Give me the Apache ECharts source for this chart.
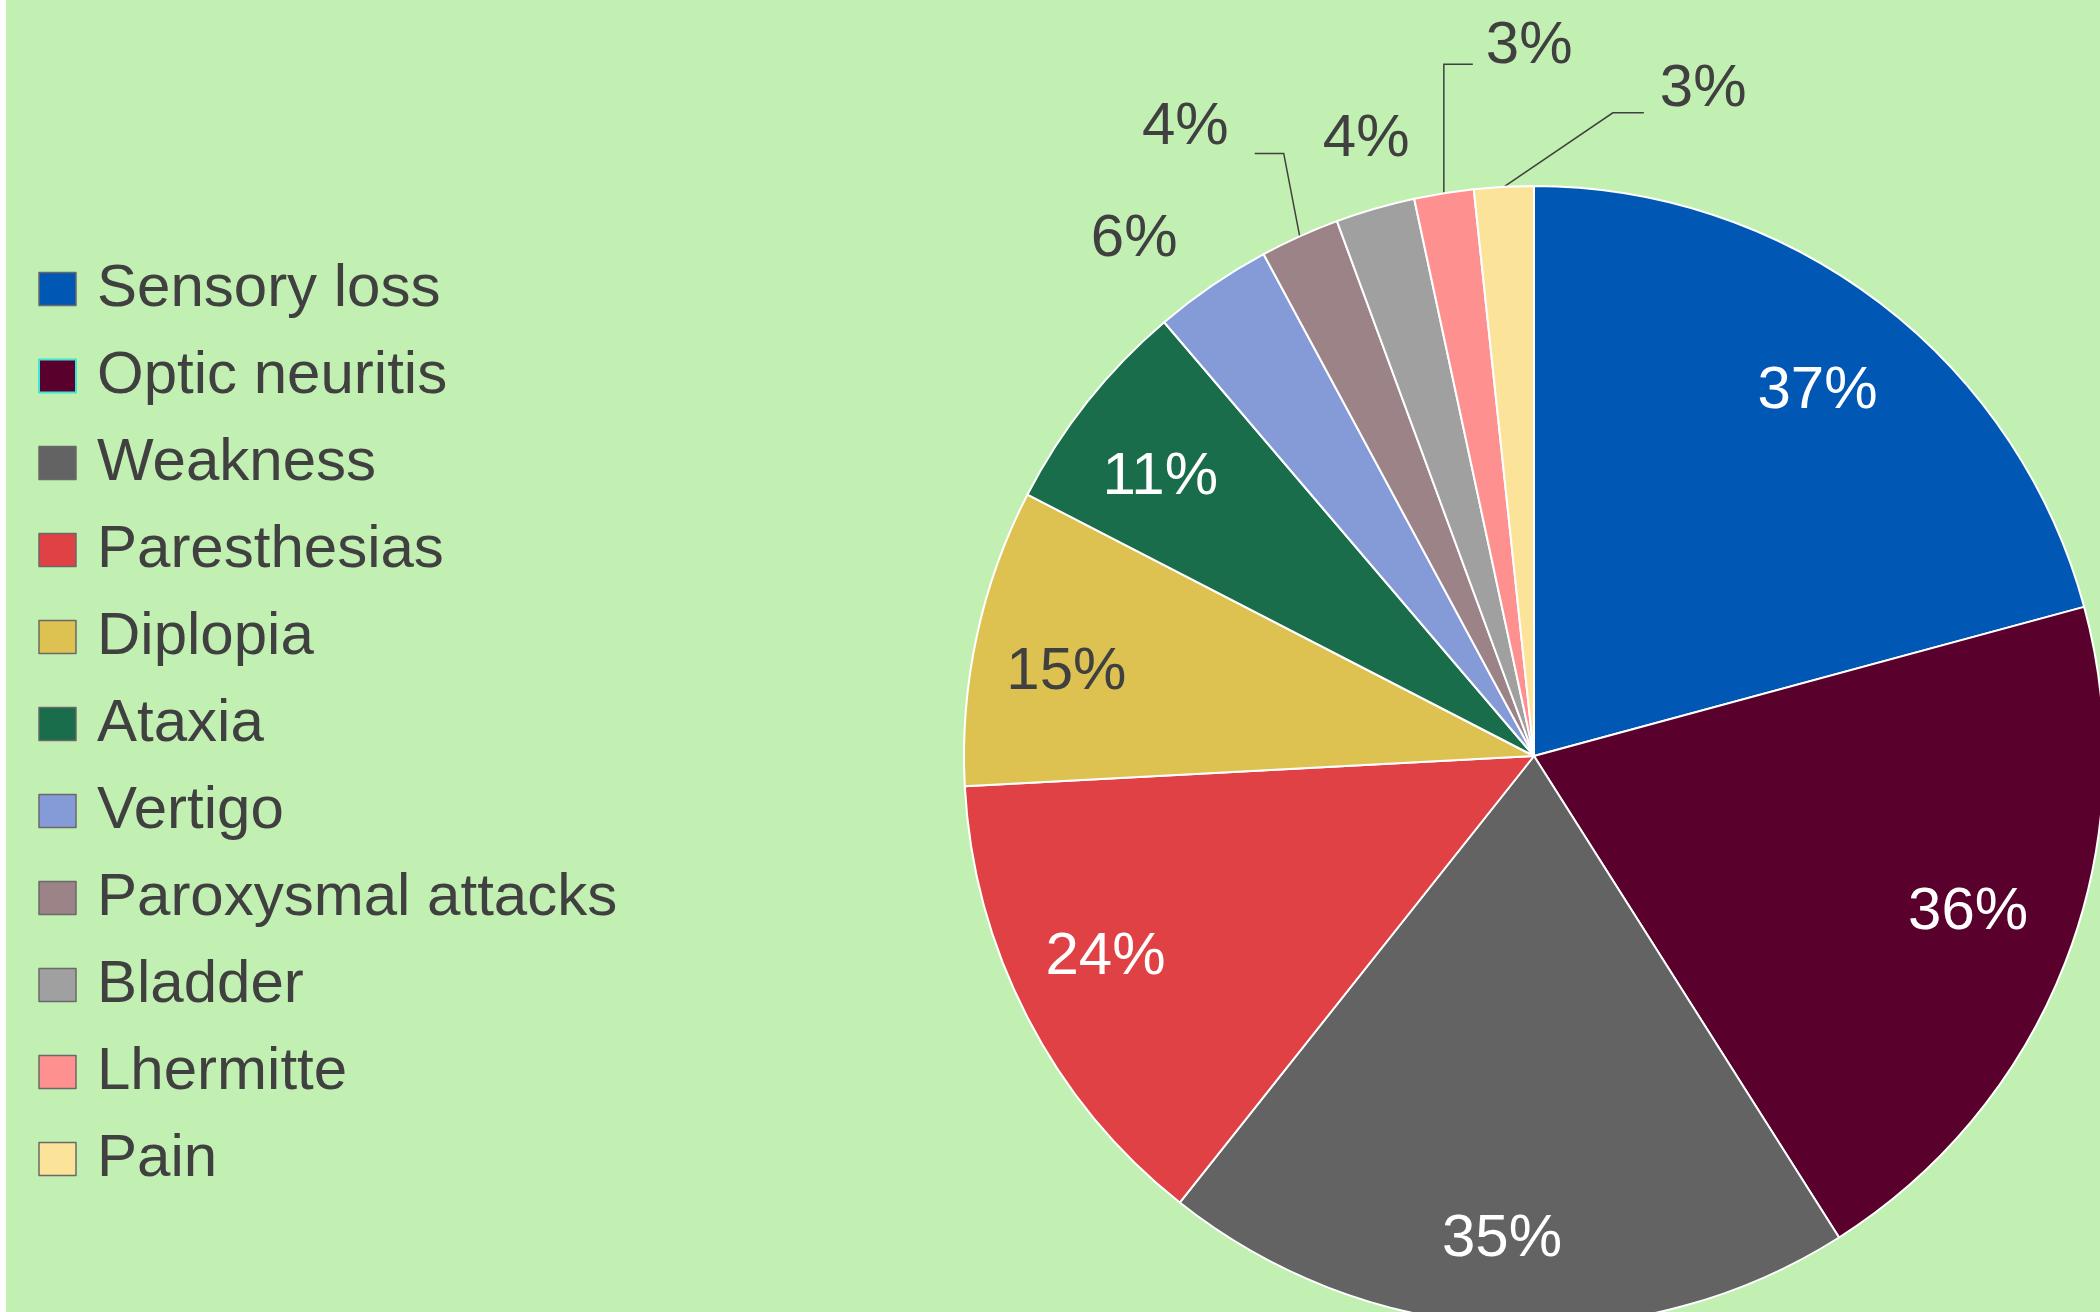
<!DOCTYPE html>
<html><head><meta charset="utf-8">
<script src="https://cdn.jsdelivr.net/npm/echarts@6/dist/echarts.min.js"></script>
<style>
html,body{margin:0;padding:0;background:#ffffff;width:2100px;height:1312px;overflow:hidden}
#main{position:absolute;left:6px;top:0;width:2094px;height:1312px}
</style></head><body><div id="main"></div>
<script>
// ---- data ----
const categories = ['Sensory loss','Optic neuritis','Weakness','Paresthesias','Diplopia','Ataxia','Vertigo','Paroxysmal attacks','Bladder','Lhermitte','Pain'];
const percentages = [37, 36, 35, 24, 15, 11, 6, 4, 4, 3, 3];

// ---- styles ----
const sliceColors = ['#0058B4','#5A002C','#636363','#E04144','#DDC252','#196D4B','#849BD8','#9C8387','#A0A0A0','#FF9090','#FBE39A'];
const insideLabelColors = ['#ffffff','#ffffff','#ffffff','#ffffff','#404040','#ffffff'];
const insideNudge = [[-4,11],[-7,-15],[-7,11],[-8,-16],[-5,16],[-3,16]];
const FONT = '"Liberation Sans", Arial, sans-serif';
const TEXT = '#404040';
const CX = 1528, CY = 756, R = 570;
// outside-label placement (offsets from the slice's outer edge point)
const outside = {
  6:  {line: false, pts: [], label: [-78,-46], align: 'center'},
  7:  {line: true, pts: [[-16,-83],[-45,-83]], label: [-71,-109], align: 'right'},
  8:  {line: false, pts: [], label: [-9,-69], align: 'center'},
  9:  {line: true, pts: [[0,-129],[29,-129]], label: [42,-147], align: 'left'},
  10: {line: true, pts: [[109,-74],[140,-74]], label: [156,-97], align: 'left'}
};

const mainData = categories.map((name, i) => {
  const o = outside[i];
  const item = {name, value: percentages[i], itemStyle: {color: sliceColors[i]}};
  if (o) {
    item.label = {show: true, position: 'outside', color: TEXT};
    item.labelLine = {show: true, length: 20, length2: 0,
      lineStyle: {color: TEXT, width: 1.5, opacity: o.line ? 1 : 0}};
  }
  return item;
});
const labelRingData = categories.map((name, i) => ({
  name, value: percentages[i],
  label: {show: i < 6, color: insideLabelColors[i] || TEXT}
}));

const chart = echarts.init(document.getElementById('main'), null, {renderer: 'canvas'});
chart.setOption({
  backgroundColor: '#C2EFB2',
  animation: false,
  legend: {
    orient: 'vertical',
    left: 32, top: 259, padding: 0,
    itemWidth: 37, itemHeight: 33, itemGap: 27,
    icon: 'rect',
    data: categories.map(n => ({name: n, itemStyle: n === 'Optic neuritis'
      ? {borderColor: '#3FE6D6', borderWidth: 2}
      : {borderColor: '#6A6A6A', borderWidth: 1.5}})),
    textStyle: {fontFamily: FONT, fontSize: 60, color: TEXT, lineHeight: 60, padding: [0,0,0,16]},
    selectedMode: false
  },
  series: [
    {
      type: 'pie',
      center: [CX, CY],
      radius: [0, R],
      startAngle: 90,
      clockwise: true,
      avoidLabelOverlap: false,
      itemStyle: {borderColor: '#ffffff', borderWidth: 2},
      label: {show: false, formatter: '{c}%', fontFamily: FONT, fontSize: 60, color: TEXT},
      labelLine: {show: false},
      emphasis: {disabled: true},
      data: mainData,
      labelLayout: function (p) {
        const o = outside[p.dataIndex];
        if (!o || !p.labelLinePoints) return {};
        const p0 = p.labelLinePoints[0];
        const pts = o.line ? [p0].concat(o.pts.map(q => [p0[0] + q[0], p0[1] + q[1]])) : [p0, p0];
        return {
          x: p0[0] + o.label[0], y: p0[1] + o.label[1],
          align: o.align, verticalAlign: 'middle',
          labelLinePoints: pts
        };
      }
    },
    {
      type: 'pie',
      center: [CX, CY],
      radius: [R * 0.65, R],
      startAngle: 90,
      clockwise: true,
      silent: true,
      avoidLabelOverlap: false,
      itemStyle: {color: 'rgba(0,0,0,0)', borderWidth: 0},
      label: {position: 'inside', formatter: '{c}%', fontFamily: FONT, fontSize: 60},
      labelLine: {show: false},
      emphasis: {disabled: true},
      data: labelRingData,
      labelLayout: function (p) {
        const d = insideNudge[p.dataIndex];
        return d ? {dx: d[0], dy: d[1]} : {};
      }
    }
  ]
});
</script></body></html>
